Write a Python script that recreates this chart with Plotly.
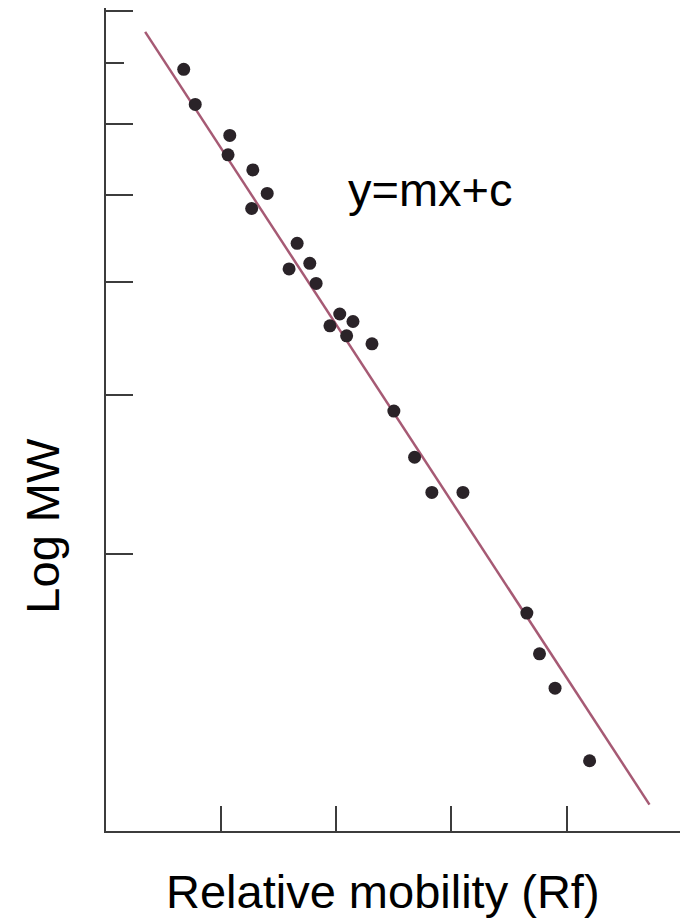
import plotly.graph_objects as go

# Data
rf = [0.135, 0.155, 0.215, 0.212, 0.255, 0.280, 0.253, 0.332, 0.354, 0.318,
      0.365, 0.406, 0.429, 0.389, 0.418, 0.462, 0.500, 0.536, 0.566, 0.620,
      0.731, 0.753, 0.780, 0.840]
mw = [68.9, 63.0, 58.2, 55.4, 53.3, 50.2, 48.3, 44.2, 42.0, 41.4,
      39.9, 36.9, 36.2, 35.8, 34.9, 34.2, 28.8, 25.6, 23.4, 23.4,
      17.2, 15.5, 14.2, 11.8]
fit_rf = [0.068, 0.944]
fit_mw = [75.8, 10.55]

x_ticks = [0.2, 0.4, 0.6, 0.8, 1.0]
y_ticks = [20, 30, 40, 50, 60, 80]
y_minor_ticks = [70]

FONT = "Liberation Sans, Arial, sans-serif"
AXIS_COLOR = "#3c3c3c"

fig = go.Figure()
fig.add_trace(go.Scatter(
    x=fit_rf, y=fit_mw, mode="lines",
    line=dict(color="#a65a74", width=2.5),
    hoverinfo="skip", showlegend=False,
))
fig.add_trace(go.Scatter(
    x=rf, y=mw, mode="markers",
    marker=dict(size=13, color="#2a2328", line=dict(width=0)),
    showlegend=False,
))

fig.update_layout(
    width=680, height=913,
    margin=dict(l=98, r=6, t=0, b=90),
    paper_bgcolor="white", plot_bgcolor="white",
    font=dict(family=FONT, color="black"),
    xaxis=dict(
        range=[0, 1.0005], showgrid=False, zeroline=False,
        showline=True, linecolor=AXIS_COLOR, linewidth=2,
        tickmode="array", tickvals=x_ticks, showticklabels=False,
        ticks="inside", ticklen=25, tickwidth=2, tickcolor=AXIS_COLOR,
    ),
    yaxis=dict(
        type="log", range=[0.994, 1.9062],
        showgrid=False, zeroline=False,
        showline=True, linecolor=AXIS_COLOR, linewidth=2,
        tickmode="array", tickvals=y_ticks, showticklabels=False,
        ticks="inside", ticklen=27, tickwidth=2, tickcolor=AXIS_COLOR,
        minor=dict(tickmode="array", tickvals=y_minor_ticks, ticks="inside",
                   ticklen=18, tickwidth=2, tickcolor=AXIS_COLOR, showgrid=False),
    ),
    annotations=[
        dict(text="y=mx+c", xref="paper", yref="paper", x=0.5625, y=0.779,
             xanchor="center", yanchor="middle", showarrow=False,
             font=dict(family=FONT, size=47, color="black")),
        dict(text="Relative mobility (Rf)", xref="paper", yref="paper",
             x=(383 - 106) / 576, y=(831 - 891) / 822,
             xanchor="center", yanchor="middle", showarrow=False,
             font=dict(family=FONT, size=47, color="black")),
        dict(text="Log MW", xref="paper", yref="paper",
             x=(43 - 106) / 576, y=(831 - 526) / 822, textangle=-90,
             xanchor="center", yanchor="middle", showarrow=False,
             font=dict(family=FONT, size=47, color="black")),
    ],
)

fig.write_html("out.html")
